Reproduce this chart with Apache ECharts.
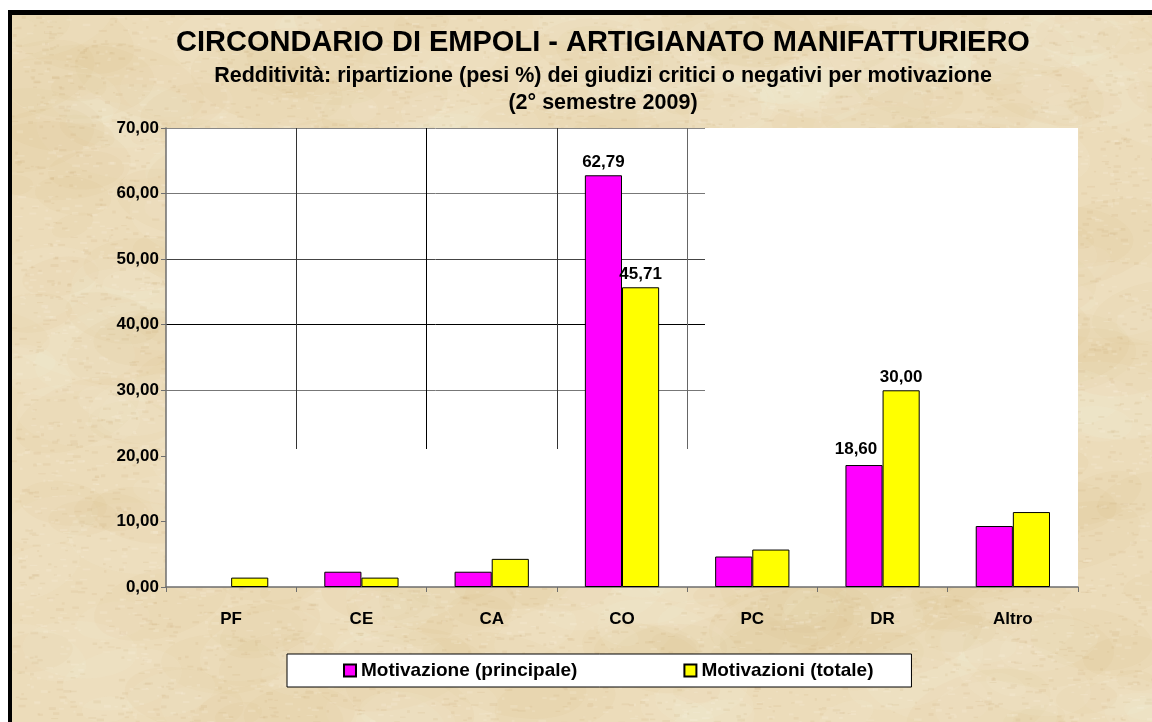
<!DOCTYPE html>
<html>
	<head>
		<meta charset="utf-8" />
		<title>Circondario di Empoli - Artigianato manifatturiero</title>
		<script src="https://cdn.jsdelivr.net/npm/echarts@6/dist/echarts.min.js" type="text/javascript"></script>
		<style>
			html, body { margin: 0; padding: 0; background: #fff; }
			#frame {
				position: absolute; left: 8px; top: 10px; width: 1140px; height: 707px;
				border-top: 5px solid #000; border-left: 4px solid #000;
			}
			#main { position: absolute; left: 0; top: 0; width: 1152px; height: 722px; }
		</style>
	</head>
	<body>
		<div id="frame"></div>
		<div id="main"></div>
		<script>
			var categories = ['PF', 'CE', 'CA', 'CO', 'PC', 'DR', 'Altro'];
			var principale = [0, 2.33, 2.33, 62.79, 4.65, 18.60, 9.30];
			var totale = [1.43, 1.43, 4.29, 45.71, 5.71, 30.00, 11.43];
			var labelled = ['CO', 'DR'];

			// carta pergamena: texture generata con un pseudo-random a seme fisso
			function parchment() {
				var c = document.createElement('canvas');
				c.width = 1144; c.height = 712;
				var g = c.getContext('2d');
				var seed = 11;
				function rnd() { seed = (seed * 16807) % 2147483647; return seed / 2147483647; }
				g.fillStyle = '#ecdcba';
				g.fillRect(0, 0, c.width, c.height);
				// macchie larghe e tenui
				for (var i = 0; i < 500; i++) {
					var x = rnd() * c.width, y = rnd() * c.height;
					var r = 20 + rnd() * 60;
					g.fillStyle = rnd() < 0.5 ? 'rgba(200,165,105,0.06)' : 'rgba(250,242,222,0.10)';
					g.beginPath();
					g.ellipse(x, y, r, r * 0.5, (rnd() - 0.5) * 0.8, 0, Math.PI * 2);
					g.fill();
				}
				// grana fine
				for (var j = 0; j < 9000; j++) {
					var px = rnd() * c.width, py = rnd() * c.height;
					g.fillStyle = rnd() < 0.55 ? 'rgba(190,150,90,0.10)' : 'rgba(255,250,235,0.16)';
					g.fillRect(px, py, 2 + rnd() * 6, 1 + rnd() * 2);
				}
				return c.toDataURL();
			}
			document.getElementById('frame').style.background = 'url(' + parchment() + ')';

			function fmt(v) { return v.toFixed(2).replace('.', ','); }

			function barData(values, shifted) {
				return values.map(function(v, i) {
					var d = { value: v, label: { show: labelled.indexOf(categories[i]) >= 0 } };
					if (shifted && categories[i] === 'DR') d.label.offset = [-8, -3];
					if (v === 0) d.itemStyle = { borderWidth: 0 };
					return d;
				});
			}

			var chart = echarts.init(document.getElementById('main'));
			var bold = { fontFamily: 'Arial, "Liberation Sans", sans-serif', fontWeight: 'bold', color: '#000' };
			var GL = 166, GR = 74, GT = 128, GB = 135;
			var unit = (722 - GT - GB) / 70;

			option = {
				backgroundColor: 'transparent',
				animation: false,
				title: [{
					text: 'CIRCONDARIO DI EMPOLI - ARTIGIANATO MANIFATTURIERO',
					left: 598, top: 23, textAlign: 'center',
					textStyle: Object.assign({ fontSize: 29 }, bold)
				}, {
					text: 'Redditività: ripartizione (pesi %) dei giudizi critici o negativi per motivazione\n(2° semestre 2009)',
					left: 598, top: 58, textAlign: 'center',
					textStyle: Object.assign({ fontSize: 21.5, lineHeight: 27 }, bold)
				}],
				legend: {
					data: ['Motivazione (principale)', 'Motivazioni (totale)'],
					left: 287, top: 654,
					padding: [7, 38, 7, 56],
					itemGap: 106, itemWidth: 12, itemHeight: 12,
					icon: 'rect',
					backgroundColor: '#fff', borderColor: '#000', borderWidth: 1,
					textStyle: Object.assign({ fontSize: 19 }, bold)
				},
				grid: [
					{ left: GL, right: GR, top: GT, bottom: GB, show: true, backgroundColor: '#fff', borderWidth: 0 },
					// linee verticali rimaste solo nella parte alta
					{ left: GL, right: GR, top: GT, height: 321, show: false },
					// linee orizzontali 30-70 solo nella parte sinistra
					{ left: GL, width: 539, top: GT, height: unit * 40, show: false }
				],
				xAxis: [{
					type: 'category', gridIndex: 0, data: categories,
					axisLine: { lineStyle: { color: '#6e6e6e', width: 1.5 } },
					axisTick: { show: true, length: 5, lineStyle: { color: '#6e6e6e' } },
					axisLabel: Object.assign({ fontSize: 17, margin: 24 }, bold)
				}, {
					type: 'value', gridIndex: 1, min: 0, max: 7, interval: 1,
					axisLine: { show: false }, axisTick: { show: false }, axisLabel: { show: false },
					splitLine: { show: true, lineStyle: { color: ['rgba(0,0,0,0)', '#333', '#000', '#333', '#666', 'rgba(0,0,0,0)', 'rgba(0,0,0,0)', 'rgba(0,0,0,0)'] } }
				}, {
					type: 'value', gridIndex: 2, min: 0, max: 1,
					axisLine: { show: false }, axisTick: { show: false }, axisLabel: { show: false }, splitLine: { show: false }
				}],
				yAxis: [{
					type: 'value', gridIndex: 0, min: 0, max: 70, interval: 10,
					axisLine: { show: true, lineStyle: { color: '#6e6e6e', width: 1.5 } },
					axisTick: { show: true, length: 5, lineStyle: { color: '#6e6e6e' } },
					splitLine: { show: false },
					axisLabel: Object.assign({ fontSize: 17, margin: 7, formatter: function(v) { return fmt(v); } }, bold)
				}, {
					type: 'value', gridIndex: 1, min: 0, max: 1,
					axisLine: { show: false }, axisTick: { show: false }, axisLabel: { show: false }, splitLine: { show: false }
				}, {
					type: 'value', gridIndex: 2, min: 30, max: 70, interval: 10,
					axisLine: { show: false }, axisTick: { show: false }, axisLabel: { show: false },
					splitLine: { show: true, lineStyle: { color: ['#777', '#000', '#444', '#777', '#888'] } }
				}],
				series: [{
					name: 'Motivazione (principale)',
					type: 'bar', xAxisIndex: 0, yAxisIndex: 0,
					data: barData(principale, true),
					barGap: '0%', barCategoryGap: '43%',
					itemStyle: { color: '#ff00ff', borderColor: '#000', borderWidth: 1 },
					label: Object.assign({ position: 'top', distance: 4, fontSize: 17, formatter: function(p) { return fmt(p.value); } }, bold)
				}, {
					name: 'Motivazioni (totale)',
					type: 'bar', xAxisIndex: 0, yAxisIndex: 0,
					data: barData(totale, false),
					itemStyle: { color: '#ffff00', borderColor: '#000', borderWidth: 1 },
					label: Object.assign({ position: 'top', distance: 4, fontSize: 17, formatter: function(p) { return fmt(p.value); } }, bold)
				}]
			};
			chart.setOption(option);
		</script>
	</body>
</html>
